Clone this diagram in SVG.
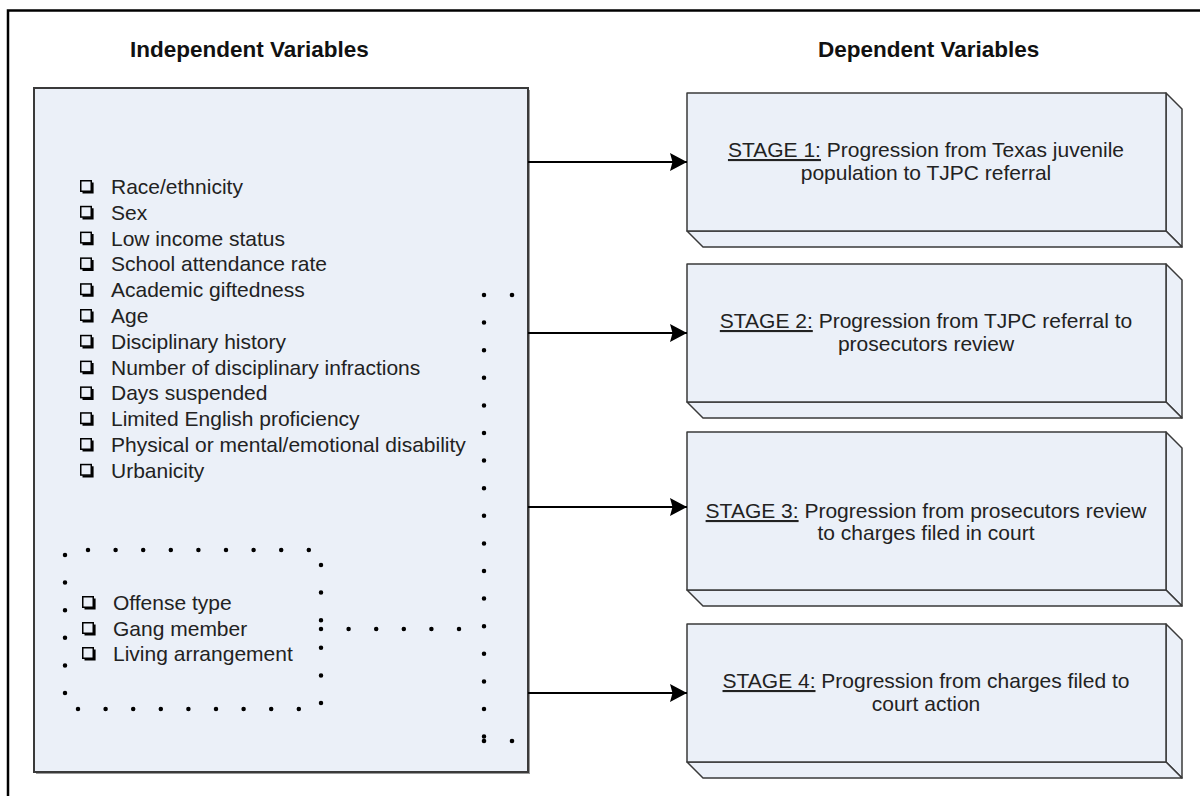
<svg xmlns="http://www.w3.org/2000/svg" width="1200" height="796" viewBox="0 0 1200 796">
<defs>
<style>
.hdr{font-family:"Liberation Sans",Arial,sans-serif;font-weight:bold;font-size:22.5px;fill:#111}
.itm{font-family:"Liberation Sans",Arial,sans-serif;font-size:21px;fill:#222}
.stg{font-family:"Liberation Sans",Arial,sans-serif;font-size:21px;fill:#222;text-anchor:middle}
.face{fill:#EBF0F8;stroke:#3a3a3a;stroke-width:1.5;stroke-linejoin:round}
.dot{fill:none;stroke:#000;stroke-width:4.5;stroke-linecap:round;stroke-dasharray:0 27.6}
.arr{fill:none;stroke:#000;stroke-width:2;marker-end:url(#ah)}
</style>
<marker id="ah" viewBox="0 0 17 18" refX="17" refY="9" markerWidth="17" markerHeight="18" markerUnits="userSpaceOnUse" orient="auto">
<path d="M0,0 L17,9 L0,18 L2.5,9 Z" fill="#000"/>
</marker>
<g id="cb">
<rect x="0.75" y="0.75" width="10.5" height="10.5" fill="none" stroke="#000" stroke-width="1.5"/>
<path d="M2.5,12.5 H12.5 V2.5" fill="none" stroke="#000" stroke-width="2.2"/>
</g>
<g id="stagebox">
<path class="face" d="M479,0 L495,16 L495,154 L479,138 Z"/>
<path class="face" d="M0,138 L479,138 L495,154 L16,154 Z"/>
<rect class="face" x="0" y="0" width="479" height="138"/>
</g>
</defs>

<rect width="1200" height="796" fill="#fff"/>
<path d="M8,796 V10.5 H1200" fill="none" stroke="#000" stroke-width="2.5"/>

<text class="hdr" x="130" y="57">Independent Variables</text>
<text class="hdr" x="818" y="57">Dependent Variables</text>

<g id="independent">
<rect x="36" y="90" width="494" height="684" fill="#9a9a9a"/>
<rect x="34" y="88" width="494" height="684" fill="#EBF0F8" stroke="#3a3a3a" stroke-width="2"/>
<use href="#cb" x="80" y="180"/><text class="itm" x="111" y="194">Race/ethnicity</text>
<use href="#cb" x="80" y="205.8"/><text class="itm" x="111" y="219.8">Sex</text>
<use href="#cb" x="80" y="231.6"/><text class="itm" x="111" y="245.6">Low income status</text>
<use href="#cb" x="80" y="257.4"/><text class="itm" x="111" y="271.4">School attendance rate</text>
<use href="#cb" x="80" y="283.2"/><text class="itm" x="111" y="297.2">Academic giftedness</text>
<use href="#cb" x="80" y="309"/><text class="itm" x="111" y="323">Age</text>
<use href="#cb" x="80" y="334.8"/><text class="itm" x="111" y="348.8">Disciplinary history</text>
<use href="#cb" x="80" y="360.6"/><text class="itm" x="111" y="374.6">Number of disciplinary infractions</text>
<use href="#cb" x="80" y="386.4"/><text class="itm" x="111" y="400.4">Days suspended</text>
<use href="#cb" x="80" y="412.2"/><text class="itm" x="111" y="426.2">Limited English proficiency</text>
<use href="#cb" x="80" y="438"/><text class="itm" x="111" y="452">Physical or mental/emotional disability</text>
<use href="#cb" x="80" y="463.8"/><text class="itm" x="111" y="477.8">Urbanicity</text>
</g>

<g id="covariates">
<path class="dot" d="M88,550 H310"/>
<path class="dot" d="M65,555 V694"/>
<path class="dot" d="M78,709 H299"/>
<path class="dot" d="M321,565 V704"/>
<use href="#cb" x="82" y="596"/><text class="itm" x="113" y="610">Offense type</text>
<use href="#cb" x="82" y="622"/><text class="itm" x="113" y="636">Gang member</text>
<use href="#cb" x="82" y="647"/><text class="itm" x="113" y="661">Living arrangement</text>
</g>

<g id="stage1">
<use href="#stagebox" x="687" y="93"/>
<text class="stg" x="926" y="157"><tspan text-decoration="underline">STAGE 1:</tspan> Progression from Texas juvenile</text>
<text class="stg" x="926" y="180">population to TJPC referral</text>
</g>
<g id="stage2">
<use href="#stagebox" x="687" y="264"/>
<text class="stg" x="926" y="328"><tspan text-decoration="underline">STAGE 2:</tspan> Progression from TJPC referral to</text>
<text class="stg" x="926" y="351">prosecutors review</text>
</g>
<g id="stage3">
<path class="face" d="M1166,432 L1182,448 L1182,606 L1166,590 Z"/>
<path class="face" d="M687,590 L1166,590 L1182,606 L703,606 Z"/>
<rect class="face" x="687" y="432" width="479" height="158"/>
<text class="stg" x="926" y="518"><tspan text-decoration="underline">STAGE 3:</tspan> Progression from prosecutors review</text>
<text class="stg" x="926" y="540">to charges filed in court</text>
</g>
<g id="stage4">
<use href="#stagebox" x="687" y="624"/>
<text class="stg" x="926" y="688"><tspan text-decoration="underline">STAGE 4:</tspan> Progression from charges filed to</text>
<text class="stg" x="926" y="711">court action</text>
</g>

<g id="connectors">
<path class="arr" d="M528,162 H687"/>
<path class="arr" d="M528,333 H687"/>
<path class="arr" d="M528,507 H687"/>
<path class="arr" d="M528,693 H687"/>
<path class="dot" d="M484,295 V740"/>
<path class="dot" d="M321,629 H480"/>
<circle cx="512" cy="295" r="2.3" fill="#000"/>
<circle cx="484" cy="741" r="2.3" fill="#000"/>
<circle cx="512" cy="741" r="2.3" fill="#000"/>
</g>
</svg>
